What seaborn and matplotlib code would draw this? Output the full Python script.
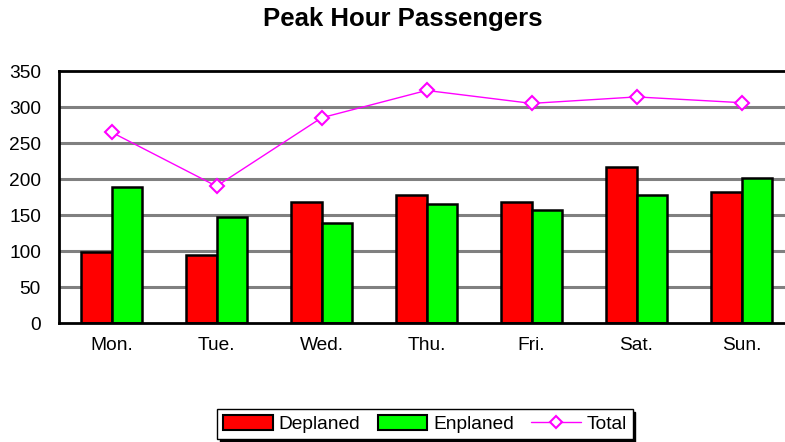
import numpy as np
import pandas as pd
import matplotlib
matplotlib.use("Agg")
import matplotlib.pyplot as plt
import seaborn as sns
from matplotlib.patches import Patch
from matplotlib.lines import Line2D

days = ["Mon.", "Tue.", "Wed.", "Thu.", "Fri.", "Sat.", "Sun."]
deplaned = [98, 95, 168, 178, 168, 216, 182]
enplaned = [189, 147, 139, 165, 157, 178, 202]
total = [265, 190, 285, 323, 305, 314, 306]
y_ticks = [0, 50, 100, 150, 200, 250, 300, 350]

sns.set_theme(style="white")
plt.rcParams['font.family'] = ['Liberation Sans', 'DejaVu Sans']
plt.rcParams['text.color'] = 'black'
plt.rcParams['xtick.color'] = 'black'
plt.rcParams['ytick.color'] = 'black'

df = pd.DataFrame({
    "day": days * 2,
    "value": deplaned + enplaned,
    "series": ["Deplaned"] * len(days) + ["Enplaned"] * len(days),
})

fig = plt.figure(figsize=(7.85, 4.42), dpi=100)
ax = fig.add_axes([59/785, (442-323)/442, (794-59)/785, (323-71)/442])

for y in y_ticks[1:-1]:
    ax.axhline(y, color="#808080", lw=2.2, zorder=0)

sns.barplot(data=df, x="day", y="value", hue="series",
            palette={"Deplaned": "#FF0000", "Enplaned": "#00FF00"},
            width=0.575, edgecolor="black", linewidth=1.8,
            saturation=1, ax=ax, legend=False, zorder=2)

sns.lineplot(x=np.arange(len(days)), y=total, color="#FF00FF", lw=1.0,
             marker="D", markersize=7, markerfacecolor="white",
             markeredgecolor="#FF00FF", markeredgewidth=1.5, ax=ax, zorder=3)

ax.set_xlim(-0.5, 6.5)
ax.set_ylim(0, 350)
ax.set_yticks(y_ticks)
ax.set_yticklabels([str(v) for v in y_ticks], fontsize=13.8)
ax.set_xticks(range(len(days)))
ax.set_xticklabels(days, fontsize=13.8)
ax.tick_params(axis="x", length=0, pad=10)
ax.tick_params(axis="y", length=0, pad=13)
ax.set_xticks(np.arange(0.5, 6.5, 1.0), minor=True)
ax.tick_params(axis="x", which="minor", direction="in", length=4, width=1.5, color="black")
ax.set_xlabel("")
ax.set_ylabel("")
for s in ax.spines.values():
    s.set_color("black")
    s.set_linewidth(2)
    s.set_visible(True)

fig.text(403/785, 1 - 19/442, "Peak Hour Passengers", ha="center", va="center",
         fontsize=18.5, fontweight="bold", color="black")

handles = [
    Patch(facecolor="#FF0000", edgecolor="black", linewidth=1.5, label="Deplaned"),
    Patch(facecolor="#00FF00", edgecolor="black", linewidth=1.5, label="Enplaned"),
    Line2D([0], [0], color="#FF00FF", lw=1.0, marker="D", markersize=6,
           markerfacecolor="white", markeredgecolor="#FF00FF", markeredgewidth=1.5,
           label="Total"),
]
leg = fig.legend(handles=handles, loc="center", bbox_to_anchor=(425/785, (442-424)/442),
                 ncol=3, fontsize=13.8, frameon=True, fancybox=False,
                 shadow={"color": "black", "alpha": 1},
                 handlelength=2.6, handleheight=0.8, handletextpad=0.3,
                 columnspacing=0.9, borderpad=0.3, borderaxespad=0)
leg.get_frame().set_edgecolor("black")
leg.get_frame().set_linewidth(1.0)

fig.savefig("out.png", dpi=100)
